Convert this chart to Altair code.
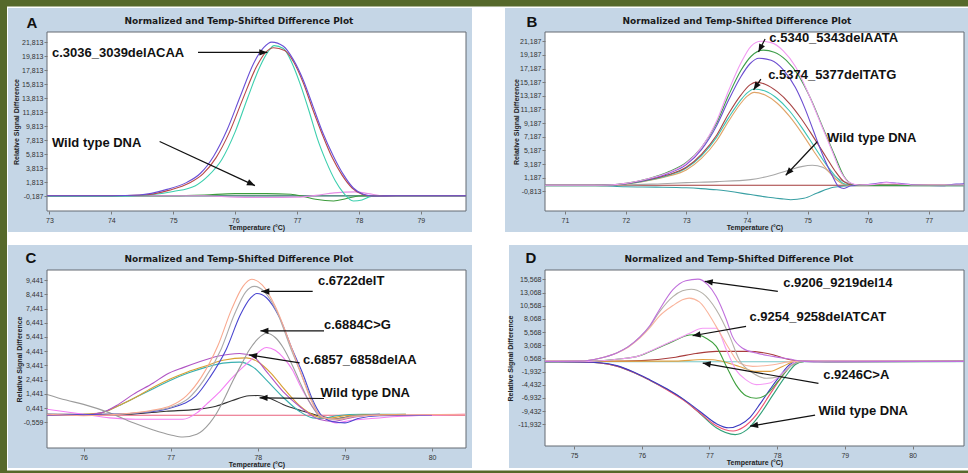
import math
import altair as alt
import pandas as pd

LABEL_FONT = "Liberation Sans"
TITLE_FONT = "DejaVu Sans"
PANEL_BLUE = "#c5d6e6"
OLIVE = "#56692b"
FRAME = "#646b73"
PLOT_TITLE = "Normalized and Temp-Shifted Difference Plot"
X_TITLE = "Temperature (°C)"
Y_TITLE = "Relative Signal Difference"
HEAD = "M0,0L-0.4,1L0.4,1Z"

# ---------------- Panel A ----------------
A_XTICKS = [73, 74, 75, 76, 77, 78, 79]
A_YTICKS = [-0.187, 1.813, 3.813, 5.813, 7.813, 9.813, 11.813, 13.813, 15.813, 17.813, 19.813, 21.813]
A_base = [(72.96, -0.12), (79.73, -0.12)]
A_purple = [(72.96, -0.1), (74.0, -0.1), (74.45, 0.0), (74.9, 0.8), (75.22, 1.8), (75.44, 3.1), (75.65, 5.5),
            (75.87, 9.3), (76.08, 14.0), (76.30, 18.8), (76.46, 21.0), (76.59, 21.8), (76.78, 21.2), (76.94, 19.3),
            (77.10, 16.4), (77.26, 12.6), (77.42, 8.8), (77.59, 5.5), (77.75, 2.9), (77.91, 1.0), (78.07, 0.1),
            (78.23, -0.15), (78.6, -0.1), (79.73, -0.1)]
A_red = [(72.96, -0.1), (74.0, -0.1), (74.5, 0.0), (74.94, 0.7), (75.26, 1.7), (75.48, 3.0), (75.69, 5.3),
         (75.91, 9.0), (76.12, 13.6), (76.34, 18.2), (76.50, 20.4), (76.62, 21.0), (76.80, 20.6), (76.95, 18.9),
         (77.10, 16.0), (77.25, 12.3), (77.41, 8.6), (77.57, 5.3), (77.73, 2.8), (77.89, 1.0), (78.05, 0.1),
         (78.2, -0.15), (78.6, -0.1), (79.73, -0.1)]
A_teal = [(72.96, -0.2), (74.0, -0.2), (74.6, 0.0), (75.0, 0.5), (75.35, 1.3), (75.56, 2.7), (75.78, 5.0),
          (76.0, 9.0), (76.2, 13.8), (76.4, 18.3), (76.53, 20.4), (76.63, 21.3), (76.78, 20.9), (76.92, 18.8),
          (77.06, 15.6), (77.20, 11.8), (77.33, 8.0), (77.47, 4.8), (77.62, 2.0), (77.75, 0.3), (77.91, -0.85),
          (78.05, -0.7), (78.2, -0.2), (78.5, -0.1), (79.73, -0.1)]
A_green = [(72.96, -0.1), (75.0, -0.1), (75.5, 0.0), (76.0, 0.2), (76.5, 0.2), (76.9, 0.1), (77.1, -0.2),
           (77.3, -0.6), (77.59, -0.85), (77.8, -0.5), (78.0, -0.15), (78.3, -0.1), (79.73, -0.1)]
A_pink = [(72.96, -0.1), (75.5, -0.1), (76.0, -0.3), (76.5, -0.35), (77.0, -0.3), (77.3, -0.05), (77.6, 0.3),
          (77.94, 0.45), (78.15, 0.2), (78.4, -0.1), (79.73, -0.1)]
A_NOTES = ["c.3036_3039delACAA", "Wild type DNA"]
A_NOTE_AT = [(73.04, 20.3), (73.04, 7.4)]
A_ARROWS = [(75.40, 20.33, 76.52, 20.33), (74.78, 7.62, 76.32, 1.34)]

# ---------------- Panel B ----------------
B_XTICKS = [71, 72, 73, 74, 75, 76, 77]
B_YTICKS = [-0.813, 1.187, 3.187, 5.187, 7.187, 9.187, 11.187, 13.187, 15.187, 17.187, 19.187, 21.187]
B_base = [(70.67, 0.07), (77.58, 0.07)]
B_pink = [(70.67, 0.07), (71.6, 0.07), (72.0, 0.35), (72.4, 1.1), (72.7, 1.9), (73.0, 3.3), (73.25, 5.6),
          (73.5, 9.5), (73.7, 14.0), (73.9, 18.0), (74.07, 20.5), (74.23, 21.2), (74.4, 21.0), (74.6, 19.8),
          (74.8, 17.5), (75.0, 13.8), (75.2, 9.5), (75.4, 5.2), (75.55, 2.0), (75.68, 0.5), (75.85, 0.1),
          (76.1, 0.2), (76.3, 0.45), (76.5, 0.3), (76.8, 0.1), (77.58, 0.1)]
B_green = [(70.67, 0.07), (71.6, 0.07), (72.0, 0.35), (72.4, 1.1), (72.7, 2.0), (73.0, 3.4), (73.25, 5.6),
           (73.5, 9.2), (73.7, 13.3), (73.9, 16.9), (74.07, 19.0), (74.27, 19.9), (74.45, 19.6), (74.65, 18.4),
           (74.85, 16.2), (75.05, 12.8), (75.25, 8.6), (75.45, 4.4), (75.6, 1.4), (75.75, 0.2), (75.9, 0.05),
           (77.58, 0.05)]
B_purple = [(70.67, 0.07), (71.6, 0.07), (72.0, 0.3), (72.4, 1.0), (72.7, 1.8), (73.0, 3.1), (73.25, 5.3),
            (73.5, 8.8), (73.7, 12.6), (73.9, 16.0), (74.05, 17.9), (74.2, 18.7), (74.4, 18.4), (74.6, 17.0),
            (74.8, 14.4), (74.95, 11.5), (75.1, 8.0), (75.25, 4.5), (75.4, 1.6), (75.52, -0.2), (75.6, -0.4),
            (75.72, 0.0), (75.9, 0.05), (76.1, 0.3), (76.3, 0.5), (76.5, 0.35), (76.8, 0.1), (77.2, 0.0),
            (77.45, 0.25), (77.58, 0.3)]
B_red = [(70.67, 0.07), (71.6, 0.07), (72.0, 0.3), (72.4, 0.9), (72.7, 1.6), (73.0, 2.7), (73.25, 4.6),
         (73.5, 7.4), (73.7, 10.6), (73.9, 13.3), (74.05, 14.8), (74.15, 15.2), (74.3, 14.9), (74.5, 13.8),
         (74.7, 12.1), (74.9, 9.8), (75.1, 7.1), (75.3, 4.3), (75.45, 2.2), (75.6, 0.6), (75.75, 0.1),
         (77.58, 0.07)]
B_teal = [(70.67, 0.0), (71.6, 0.0), (72.0, 0.25), (72.4, 0.85), (72.7, 1.5), (73.0, 2.6), (73.25, 4.4),
          (73.5, 7.1), (73.7, 10.0), (73.9, 12.6), (74.0, 13.6), (74.12, 14.2), (74.3, 13.9), (74.5, 12.8),
          (74.7, 11.0), (74.9, 8.6), (75.1, 5.9), (75.3, 3.2), (75.45, 1.5), (75.6, 0.3), (75.8, 0.05),
          (77.58, 0.0)]
B_orange = [(70.67, 0.0), (71.6, 0.0), (72.0, 0.2), (72.4, 0.8), (72.7, 1.4), (73.0, 2.3), (73.25, 4.0),
            (73.5, 6.6), (73.7, 9.5), (73.9, 12.1), (74.0, 13.1), (74.12, 13.7), (74.3, 13.3), (74.5, 12.1),
            (74.7, 10.2), (74.9, 7.8), (75.1, 5.1), (75.3, 2.6), (75.45, 1.1), (75.6, 0.2), (75.8, 0.0),
            (77.58, 0.0)]
B_gray = [(71.5, 0.07), (72.0, 0.1), (72.6, 0.3), (73.0, 0.45), (73.5, 0.6), (74.06, 0.9), (74.4, 1.5),
          (74.7, 2.3), (74.9, 2.8), (75.08, 3.0), (75.25, 2.7), (75.4, 1.7), (75.55, 0.8), (75.7, 0.3),
          (75.9, 0.07)]
B_tealneg = [(70.67, 0.0), (71.5, 0.0), (72.0, -0.15), (72.5, -0.2), (73.0, -0.3), (73.24, -0.42), (73.5, -0.6),
             (74.06, -1.3), (74.35, -1.7), (74.61, -1.95), (74.72, -2.05), (74.94, -1.85), (75.16, -1.06),
             (75.43, -0.23), (75.7, 0.0), (77.58, 0.0)]
B_NOTES = ["c.5340_5343delAATA", "c.5374_5377delTATG", "Wild type DNA"]
B_NOTE_AT = [(74.37, 21.69), (74.35, 16.28), (75.32, 7.04)]
B_ARROWS = [(74.30, 21.54, 74.19, 19.63), (74.23, 15.65, 74.11, 14.07), (75.16, 6.45, 74.64, 1.54)]

# ---------------- Panel C ----------------
C_XTICKS = [76, 77, 78, 79, 80]
C_YTICKS = [-0.559, 0.441, 1.441, 2.441, 3.441, 4.441, 5.441, 6.441, 7.441, 8.441, 9.441]
C_base = [(75.58, -0.07), (80.38, -0.07)]
C_salmon = [(75.58, 0.0), (76.0, -0.1), (76.4, 0.0), (76.8, 0.3), (77.0, 0.6), (77.18, 1.3), (77.35, 2.6),
            (77.54, 4.8), (77.7, 7.4), (77.83, 9.0), (77.93, 9.5), (78.05, 9.1), (78.2, 7.6), (78.38, 4.8),
            (78.5, 2.8), (78.61, 1.0), (78.7, 0.0), (78.8, -0.3), (78.95, -0.35), (79.1, -0.15), (79.5, -0.05),
            (80.38, 0.0)]
C_gray1 = [(76.3, -0.05), (76.8, 0.25), (77.0, 0.5), (77.2, 1.1), (77.38, 2.4), (77.58, 4.6), (77.73, 7.0),
           (77.86, 8.6), (77.96, 9.0), (78.08, 8.6), (78.22, 7.2), (78.38, 4.6), (78.5, 2.8), (78.62, 1.0),
           (78.7, 0.0), (78.8, -0.3), (78.95, -0.35), (79.1, -0.15), (79.4, -0.05)]
C_blue = [(75.58, -0.05), (76.3, 0.0), (76.8, 0.2), (77.0, 0.45), (77.29, 1.3), (77.45, 2.6), (77.64, 4.6),
          (77.8, 7.0), (77.92, 8.2), (77.99, 8.5), (78.1, 8.2), (78.25, 6.8), (78.4, 4.5), (78.52, 2.8),
          (78.63, 1.0), (78.72, 0.0), (78.85, -0.5), (79.0, -0.6), (79.15, -0.3), (79.4, -0.1), (80.0, -0.05)]
C_gray2 = [(75.58, 1.4), (75.8, 1.0), (76.0, 0.7), (76.3, 0.1), (76.57, -0.6), (76.8, -1.1), (77.0, -1.45),
           (77.14, -1.6), (77.3, -1.4), (77.45, -0.6), (77.52, 0.0), (77.6, 0.9), (77.71, 2.3), (77.82, 3.6),
           (77.9, 4.5), (78.0, 5.3), (78.1, 5.7), (78.2, 5.4), (78.29, 4.7), (78.4, 3.4), (78.48, 2.3),
           (78.58, 1.0), (78.65, 0.3), (78.73, -0.25), (78.9, -0.35), (79.1, -0.1), (79.4, -0.05)]
C_pink = [(75.58, 0.35), (76.0, 0.0), (76.3, -0.25), (76.6, -0.35), (77.14, -0.35), (77.3, 0.1), (77.41, 0.7),
          (77.55, 1.5), (77.71, 2.6), (77.9, 3.7), (78.1, 4.7), (78.2, 4.5), (78.29, 4.0), (78.4, 3.1),
          (78.48, 2.1), (78.58, 1.0), (78.67, 0.2), (78.8, -0.4), (78.9, -0.6), (79.05, -0.45), (79.3, -0.3),
          (79.6, -0.15), (80.0, -0.05), (80.38, 0.0)]
C_purple = [(75.58, 0.0), (76.0, -0.05), (76.2, 0.1), (76.4, 0.7), (76.57, 1.4), (76.8, 2.2), (76.95, 2.8),
            (77.15, 3.3), (77.33, 3.7), (77.55, 4.1), (77.79, 4.28), (77.94, 4.1), (78.1, 3.0), (78.29, 1.6),
            (78.48, 0.55), (78.7, -0.35), (78.86, -0.5), (79.1, -0.2), (79.4, 0.0)]
C_orange = [(76.0, 0.0), (76.2, 0.1), (76.4, 0.6), (76.6, 1.2), (76.8, 1.9), (77.0, 2.5), (77.2, 3.0),
            (77.4, 3.4), (77.6, 3.8), (77.87, 3.97), (78.0, 3.7), (78.15, 2.9), (78.3, 1.8), (78.48, 0.6),
            (78.65, -0.1), (78.8, -0.3), (79.0, -0.1), (79.7, 0.0)]
C_teal = [(75.58, 0.0), (76.0, -0.05), (76.2, 0.1), (76.4, 0.6), (76.6, 1.2), (76.8, 1.8), (77.0, 2.4),
          (77.2, 2.9), (77.4, 3.3), (77.6, 3.6), (77.79, 3.67), (77.95, 3.3), (78.1, 2.4), (78.29, 1.2),
          (78.48, 0.2), (78.63, -0.25), (78.75, -0.3), (78.9, -0.1), (79.2, 0.0), (79.7, 0.0)]
C_black = [(75.58, 0.0), (76.5, 0.0), (76.95, 0.22), (77.3, 0.35), (77.52, 0.57), (77.7, 0.95), (77.9, 1.3),
           (78.0, 1.32), (78.15, 1.1), (78.29, 0.69), (78.5, 0.25), (78.7, -0.1), (78.9, -0.3), (79.1, -0.1),
           (79.4, 0.0)]
C_NOTES = ["c.6722delT", "c.6884C>G", "c.6857_6858delAA", "Wild type DNA"]
C_NOTE_AT = [(78.69, 9.37), (78.76, 6.27), (78.52, 3.85), (78.72, 1.51)]
C_ARROWS = [(78.63, 8.64, 78.04, 8.64), (78.76, 5.87, 78.03, 5.87), (78.48, 3.62, 77.90, 4.18),
            (78.76, 1.11, 78.02, 1.16)]

# ---------------- Panel D ----------------
D_XTICKS = [75, 76, 77, 78, 79, 80]
D_YTICKS = [-11.932, -9.432, -6.932, -4.432, -1.932, 0.568, 3.068, 5.568, 8.068, 10.568, 13.068, 15.568]
D_base = [(74.57, -0.06), (80.76, -0.06)]
D_violet = [(74.57, 0.0), (75.1, 0.05), (75.38, 0.6), (75.63, 1.6), (75.8, 2.8), (75.97, 4.6), (76.12, 6.8),
            (76.26, 9.8), (76.46, 13.6), (76.65, 15.3), (76.83, 15.6), (76.97, 14.6), (77.1, 12.3), (77.25, 7.9),
            (77.34, 4.7), (77.49, 2.5), (77.69, 1.6), (77.94, 0.95), (78.18, 0.44), (78.4, 0.0), (78.7, -0.1),
            (79.5, -0.05), (80.76, 0.0)]
D_gray = [(74.57, 0.0), (75.1, 0.05), (75.38, 0.6), (75.63, 1.6), (75.8, 2.8), (75.97, 4.6), (76.12, 6.7),
          (76.26, 9.4), (76.46, 12.3), (76.6, 13.4), (76.73, 13.7), (76.9, 12.9), (77.1, 9.8), (77.3, 4.7),
          (77.44, 0.3), (77.64, -2.2), (77.84, -3.2), (78.03, -2.85), (78.23, -0.6), (78.4, 0.0), (80.76, 0.0)]
D_salmon = [(74.57, 0.0), (75.1, 0.05), (75.38, 0.6), (75.63, 1.6), (75.8, 2.7), (75.97, 4.4), (76.12, 6.4),
            (76.26, 8.6), (76.46, 10.6), (76.6, 11.7), (76.7, 12.0), (76.85, 11.3), (77.1, 6.6), (77.3, 2.2),
            (77.44, -0.3), (77.64, -0.95), (77.94, -0.63), (78.23, 0.0), (80.76, 0.0)]
D_pink = [(74.57, 0.0), (75.2, 0.0), (75.63, 0.4), (75.97, 1.1), (76.2, 2.4), (76.46, 3.9), (76.7, 5.3),
          (76.9, 6.3), (77.1, 6.3), (77.25, 2.2), (77.39, -1.6), (77.54, -3.5), (77.69, -4.4), (77.89, -4.1),
          (78.08, -2.2), (78.3, 0.0), (78.6, 0.1), (80.76, 0.0)]
D_green = [(74.57, -0.05), (75.2, 0.0), (75.63, 0.4), (75.97, 1.1), (76.2, 2.3), (76.46, 3.8), (76.7, 5.0),
           (76.8, 5.1), (76.95, 4.4), (77.1, 2.85), (77.25, -0.95), (77.39, -4.4), (77.54, -6.5), (77.69, -7.0),
           (77.84, -6.3), (78.03, -3.5), (78.23, -0.6), (78.4, 0.0), (78.8, -0.1), (80.76, 0.0)]
D_brown = [(74.57, 0.0), (75.5, 0.0), (76.0, 0.15), (76.5, 0.8), (76.8, 1.5), (77.1, 1.9), (77.54, 1.9),
           (77.94, 1.27), (78.1, 0.6), (78.3, 0.1), (78.5, 0.0), (80.76, 0.0)]
D_orange = [(74.57, 0.0), (76.5, 0.05), (76.9, 0.35), (77.05, 0.3), (77.25, -0.2), (77.44, -0.95), (77.69, -1.9),
            (77.89, -1.9), (78.08, -0.95), (78.27, 0.0), (80.76, 0.0)]
D_blue = [(74.57, -0.05), (75.1, -0.1), (75.38, -0.25), (75.63, -0.8), (75.88, -2.0), (76.12, -3.5),
          (76.37, -5.2), (76.62, -7.2), (76.86, -9.5), (77.1, -11.8), (77.28, -12.6), (77.45, -12.0),
          (77.6, -10.6), (77.75, -8.0), (77.9, -5.2), (78.05, -2.6), (78.2, -0.5), (78.35, 0.0), (80.76, 0.0)]
D_red = [(74.57, -0.05), (75.1, -0.1), (75.38, -0.3), (75.63, -0.9), (75.88, -2.1), (76.12, -3.6),
         (76.37, -5.4), (76.62, -7.4), (76.86, -9.8), (77.1, -12.2), (77.35, -13.2), (77.5, -12.5),
         (77.7, -10.0), (77.88, -6.5), (78.07, -2.9), (78.22, -0.6), (78.35, 0.0), (80.76, 0.0)]
D_green2 = [(74.57, -0.05), (75.1, -0.1), (75.38, -0.3), (75.63, -0.9), (75.88, -2.1), (76.12, -3.6),
            (76.37, -5.3), (76.62, -7.3), (76.86, -9.9), (77.1, -12.6), (77.38, -13.9), (77.55, -13.0),
            (77.75, -10.0), (77.93, -6.5), (78.12, -2.9), (78.27, -0.6), (78.4, 0.0), (80.76, 0.0)]
D_NOTES = ["c.9206_9219del14", "c.9254_9258delATCAT", "c.9246C>A", "Wild type DNA"]
D_NOTE_AT = [(78.09, 14.94), (77.59, 8.42), (78.68, -2.6), (78.61, -9.43)]
D_ARROWS = [(78.01, 13.29, 76.93, 15.19), (77.54, 6.64, 76.75, 4.87), (78.61, -4.18, 76.90, -0.32),
            (78.56, -10.19, 77.60, -12.28)]


def one_row():
    return alt.Data(values=[{"k": 1}])


def box(x1, x2, y1, y2, fill, stroke=None):
    kw = {"fill": fill}
    if stroke:
        kw.update(stroke=stroke, strokeWidth=1)
    else:
        kw.update(strokeWidth=0)
    return alt.Chart(one_row()).mark_rect(**kw).encode(
        x=alt.value(x1), x2=alt.value(x2), y=alt.value(y1), y2=alt.value(y2))


def panel(cfg):
    w, h = cfg["w"], cfg["h"]
    xdom, ydom = cfg["xdom"], cfg["ydom"]
    rows = []
    for name, color, pts in cfg["series"]:
        for t, v in pts:
            rows.append({"s": name, "c": color, "t": t, "v": v})
    df = pd.DataFrame(rows)
    xs = alt.Scale(domain=xdom, nice=False, zero=False)
    ys = alt.Scale(domain=ydom, nice=False, zero=False)
    common = dict(grid=False, domain=False, tickSize=3, tickColor="#7a7a7a", labelFont=LABEL_FONT,
                  labelFontSize=7, labelColor="#333333", labelOverlap=False, labelFlush=False,
                  titleFont=LABEL_FONT, titleFontSize=7, titleFontWeight="bold", titleColor="#222222",
                  zindex=1)
    xaxis = alt.Axis(values=cfg["xticks"], format="d", title=X_TITLE, labelPadding=2,
                     titleY=16.5, titleBaseline="middle", **common)
    yaxis = alt.Axis(values=cfg["yticks"], title=Y_TITLE, labelPadding=1,
                     labelExpr="replace(replace(format(datum.value, '.3f'), '.', ','), '\u2212', '-')",
                     titleX=cfg["ytx"], titleY=h / 2, titleAngle=270, titleAlign="center",
                     titleBaseline="middle", **common)

    lines = alt.Chart(df).mark_line(strokeWidth=1.1, interpolate="monotone").encode(
        x=alt.X("t:Q", scale=xs, axis=xaxis),
        y=alt.Y("v:Q", scale=ys, axis=yaxis),
        color=alt.Color("c:N", scale=None),
        detail="s:N",
    )

    sx = w / (xdom[1] - xdom[0])
    sy = h / (ydom[1] - ydom[0])
    nrows = []
    for text, (tx, ty), (x1, y1, x2, y2) in zip(cfg["notes"], cfg["note_at"], cfg["arrows"]):
        dxp = (x2 - x1) * sx
        dyp = -(y2 - y1) * sy
        ang = math.degrees(math.atan2(dxp, -dyp)) % 360
        nrows.append({"text": text, "tx": tx, "ty": ty, "x1": x1, "y1": y1, "x2": x2, "y2": y2, "ang": ang})
    ndf = pd.DataFrame(nrows)
    rules = alt.Chart(ndf).mark_rule(color="#111111", strokeWidth=1.2).encode(
        x=alt.X("x1:Q", scale=xs, axis=xaxis), y=alt.Y("y1:Q", scale=ys, axis=yaxis), x2="x2:Q", y2="y2:Q")
    heads = alt.Chart(ndf).mark_point(shape=HEAD, filled=True, size=256, color="#111111", opacity=1,
                                      strokeWidth=0).encode(
        x=alt.X("x2:Q", scale=xs, axis=xaxis), y=alt.Y("y2:Q", scale=ys, axis=yaxis),
        angle=alt.Angle("ang:Q", scale=None))
    texts = alt.Chart(ndf).mark_text(align="left", baseline="middle", font=LABEL_FONT, fontSize=13,
                                     fontWeight="bold", color="#111111").encode(
        x=alt.X("tx:Q", scale=xs, axis=xaxis), y=alt.Y("ty:Q", scale=ys, axis=yaxis), text="text:N")

    title = alt.Chart(one_row()).mark_text(text=PLOT_TITLE, font=TITLE_FONT, fontSize=9, fontWeight="bold",
                                           align="center", baseline="middle", color="#1a1a1a").encode(
        x=alt.value(cfg["title_x"]), y=alt.value(-11))
    letter = alt.Chart(one_row()).mark_text(text=cfg["letter"], font=LABEL_FONT, fontSize=15, fontWeight="bold",
                                            align="center", baseline="alphabetic", color="#111111").encode(
        x=alt.value(cfg["letter_xy"][0]), y=alt.value(cfg["letter_xy"][1]))

    bx = cfg["blue"]
    layers = [box(bx[0], w + bx[1], bx[2], h + bx[3], PANEL_BLUE)]
    for ob in cfg["olive"]:
        layers.append(box(ob[0], ob[1], ob[2], ob[3], OLIVE))
    layers.append(box(0, w, 0, h, "white", FRAME))
    layers += [lines, rules, heads, texts, title, letter]
    return alt.layer(*layers).properties(width=w, height=h)


pA = panel(dict(
    w=419, h=179, xdom=[72.96, 79.73], ydom=[-2.28, 23.24], xticks=A_XTICKS, yticks=A_YTICKS, ytx=-31,
    series=[("base", "#2a6e66", A_base), ("green", "#3c9c3c", A_green), ("pink", "#e68ee6", A_pink),
            ("teal", "#3ccfae", A_teal), ("red", "#b84848", A_red), ("purple", "#6a4fd6", A_purple)],
    notes=A_NOTES, note_at=A_NOTE_AT, arrows=A_ARROWS, letter="A", letter_xy=(-15, -4), title_x=192,
    blue=(-39, 6, -24, 21),
    olive=[(-47, 921, -32, -25.5), (-47, -40, -32, 441)],
))
pB = panel(dict(
    w=419, h=179, xdom=[70.67, 77.58], ydom=[-3.71, 22.56], xticks=B_XTICKS, yticks=B_YTICKS, ytx=-29,
    series=[("base", "#a33a3a", B_base), ("tealneg", "#3aa0a4", B_tealneg), ("gray", "#a8a8a8", B_gray),
            ("orange", "#e0a468", B_orange), ("teal", "#3cc4b4", B_teal), ("red", "#a84444", B_red),
            ("purple", "#6b4cd0", B_purple), ("green", "#3e9e4a", B_green), ("pink", "#f29af2", B_pink)],
    notes=B_NOTES, note_at=B_NOTE_AT, arrows=B_ARROWS, letter="B", letter_xy=(-13, -5), title_x=192,
    blue=(-40, 4, -24, 21), olive=[],
))
pC = panel(dict(
    w=419, h=178, xdom=[75.58, 80.39], ydom=[-2.37, 10.15], xticks=C_XTICKS, yticks=C_YTICKS, ytx=-28,
    series=[("base", "#e8607c", C_base), ("black", "#333333", C_black), ("teal", "#3ab0b0", C_teal),
            ("orange", "#d9a033", C_orange), ("purple", "#b054c4", C_purple), ("pink", "#f47ef4", C_pink),
            ("gray2", "#9c9c9c", C_gray2), ("blue", "#4a46d0", C_blue), ("gray1", "#aaaaaa", C_gray1),
            ("salmon", "#f9a98f", C_salmon)],
    notes=C_NOTES, note_at=C_NOTE_AT, arrows=C_ARROWS, letter="C", letter_xy=(-16, -7), title_x=192,
    blue=(-39, 6, -25, 20),
    olive=[(-47, 921, 200.5, 203)],
))
pD = panel(dict(
    w=419, h=176, xdom=[74.57, 80.76], ydom=[-16.05, 17.34], xticks=D_XTICKS, yticks=D_YTICKS, ytx=-35,
    series=[("base", "#78c8c8", D_base), ("brown", "#a83c3c", D_brown), ("orange", "#e0a040", D_orange),
            ("green2", "#30a078", D_green2), ("red", "#f05070", D_red), ("blue", "#3a3ac0", D_blue),
            ("green", "#3ea03e", D_green), ("pink", "#f59af5", D_pink), ("salmon", "#f9b49c", D_salmon),
            ("gray", "#b4b0a8", D_gray), ("violet", "#c070dc", D_violet)],
    notes=D_NOTES, note_at=D_NOTE_AT, arrows=D_ARROWS, letter="D", letter_xy=(-14, -7), title_x=194,
    blue=(-36, 4, -25, 22), olive=[],
))

chart = alt.concat(pA, pB, pC, pD, columns=2, bounds="flush",
                   spacing=alt.RowColnumber(row=59, column=79)).properties(
    padding=0, background="white"
).configure_view(stroke=None)

chart.save("out.html", embed_options={"renderer": "svg", "actions": False})
